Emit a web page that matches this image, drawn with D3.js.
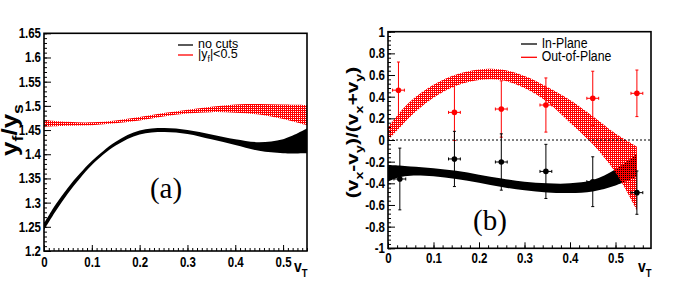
<!DOCTYPE html>
<html>
<head>
<meta charset="utf-8">
<script src="https://cdn.jsdelivr.net/npm/d3@7"></script>
<style>
  body { margin: 0; background: #fff; }
  text { font-family: "Liberation Sans", Arial, Helvetica, sans-serif; }
</style>
</head>
<body>
<script>
//////////////////////////////////////////////////////////////////////////////
// Data

// panel (a): y_f/y_s vs v_T
let vNoCuts = [0, 0.025, 0.05, 0.075, 0.1, 0.15, 0.2, 0.25, 0.3, 0.35, 0.4, 0.45, 0.5, 0.55];
let noCutsHi = [1.257, 1.297, 1.331, 1.360, 1.386, 1.426, 1.449, 1.454, 1.450, 1.441, 1.431, 1.425, 1.431, 1.453];
let noCutsLo = [1.243, 1.283, 1.319, 1.350, 1.378, 1.418, 1.441, 1.446, 1.442, 1.431, 1.419, 1.407, 1.402, 1.402];

let vCut = [0, 0.05, 0.1, 0.15, 0.2, 0.25, 0.3, 0.35, 0.4, 0.45, 0.5, 0.55];
let cutHi = [1.471, 1.467, 1.466, 1.470, 1.477, 1.485, 1.492, 1.498, 1.503, 1.504, 1.503, 1.502];
let cutLo = [1.457, 1.459, 1.460, 1.464, 1.470, 1.478, 1.484, 1.487, 1.486, 1.482, 1.473, 1.460];

// panel (b): (vx-vy)/(vx+vy) vs v_T
let vBand = [0, 0.025, 0.05, 0.1, 0.15, 0.2, 0.25, 0.3, 0.35, 0.4, 0.45, 0.5, 0.547];
let outHi = [0.12, 0.25, 0.36, 0.51, 0.605, 0.652, 0.65, 0.59, 0.49, 0.37, 0.22, 0.06, -0.06];
let outLo = [0.0, 0.11, 0.22, 0.39, 0.50, 0.553, 0.552, 0.48, 0.35, 0.16, -0.04, -0.30, -0.65];
let inHi = [-0.23, -0.235, -0.245, -0.26, -0.285, -0.32, -0.355, -0.385, -0.40, -0.40, -0.37, -0.27, -0.13];
let inLo = [-0.385, -0.345, -0.33, -0.335, -0.36, -0.395, -0.435, -0.465, -0.485, -0.49, -0.475, -0.42, -0.34];

let outV = [0.023, 0.146, 0.249, 0.347, 0.45, 0.547];
let outY = [0.46, 0.255, 0.286, 0.323, 0.385, 0.431];
let outErr = [0.26, 0.26, 0.26, 0.25, 0.25, 0.215];
let inV = [0.026, 0.146, 0.249, 0.347, 0.45, 0.547];
let inY = [-0.36, -0.175, -0.203, -0.29, -0.385, -0.486];
let inErr = [0.285, 0.255, 0.26, 0.25, 0.23, 0.2];
let vErr = 0.013;

// ticks
let xTicksA = [0, 0.1, 0.2, 0.3, 0.4, 0.5];
let yTicksA = [1.2, 1.25, 1.3, 1.35, 1.4, 1.45, 1.5, 1.55, 1.6, 1.65];
let xTicksB = [0, 0.1, 0.2, 0.3, 0.4, 0.5];
let yTicksB = [-1, -0.8, -0.6, -0.4, -0.2, 0, 0.2, 0.4, 0.6, 0.8, 1];

//////////////////////////////////////////////////////////////////////////////
// canvas

let width = 689;
let height = 288;
let squeezeX = 0.82;   // picture is narrower than the ROOT original

let svg = d3.select("body").append("svg")
  .attr("width", width)
  .attr("height", height);

svg.append("rect").attr("width", width).attr("height", height).attr("fill", "#fff");

// red hatch of ROOT fill style: red with a transparent dot in each cell
let defs = svg.append("defs");
defs.append("pattern")
  .attr("id", "hatch")
  .attr("patternUnits", "userSpaceOnUse")
  .attr("width", 2).attr("height", 2)
  .append("path")
  .attr("d", "M0,0H2V2H0Z M1,1V2H2V1Z")
  .attr("fill-rule", "evenodd")
  .attr("fill", "#ff0000");

// narrow the horizontal size of text like in the picture
function squeeze(sel, rot) {
  sel.each(function () {
    let t = d3.select(this);
    let x = +t.attr("x") || 0, y = +t.attr("y") || 0;
    t.attr("x", null).attr("y", null)
      .attr("transform", `translate(${x},${y}) scale(${squeezeX},1)` + (rot ? " rotate(-90)" : ""));
  });
}

function subText(g, parts, x, y, size, opts) {
  let t = g.append("text")
    .attr("x", x).attr("y", y)
    .attr("font-size", size)
    .attr("font-weight", opts.bold ? "bold" : "normal")
    .attr("text-anchor", opts.anchor || "start");
  let shift = 0;
  parts.forEach(p => {
    let sub = p[1];
    let dy = sub ? size * 0.3 - shift : -shift;
    shift = sub ? size * 0.3 : 0;
    t.append("tspan")
      .attr("dy", dy)
      .attr("font-size", sub ? size * 0.68 : size)
      .text(p[0]);
  });
  if (!opts.wide) squeeze(t, opts.rot);
  return t;
}

function makeAxes(g, x, y, xMinor, yMinor, xTicks, yTicks, yFmt, padX) {
  let [x0, x1] = x.range();
  let [y0, y1] = y.range();

  // minor ticks
  g.append("g").attr("transform", `translate(0,${y0})`)
    .call(d3.axisBottom(x).tickValues(xMinor).tickSize(-3).tickFormat(""))
    .call(a => a.select(".domain").remove());
  g.append("g").attr("transform", `translate(${x0},0)`)
    .call(d3.axisLeft(y).tickValues(yMinor).tickSize(-3).tickFormat(""))
    .call(a => a.select(".domain").remove());

  // major ticks with labels
  let ax = g.append("g").attr("transform", `translate(0,${y0})`)
    .call(d3.axisBottom(x).tickValues(xTicks).tickSize(-6).tickPadding(padX)
      .tickFormat(d => +d.toFixed(2)));
  ax.select(".domain").remove();
  ax.selectAll("text").attr("font-size", 14).attr("font-weight", "bold").attr("font-family", null);
  squeeze(ax.selectAll("text"));

  let ay = g.append("g").attr("transform", `translate(${x0},0)`)
    .call(d3.axisLeft(y).tickValues(yTicks).tickSize(-7).tickPadding(3).tickFormat(yFmt));
  ay.select(".domain").remove();
  ay.selectAll("text").attr("font-size", 14).attr("font-weight", "bold").attr("font-family", null);
  squeeze(ay.selectAll("text"));

  g.selectAll(".tick line").attr("stroke", "#000").attr("stroke-width", 1);

  // frame
  g.append("rect")
    .attr("x", x0).attr("y", y1)
    .attr("width", x1 - x0).attr("height", y0 - y1)
    .attr("fill", "none").attr("stroke", "#000").attr("stroke-width", 1.6);
}

function band(g, xs, lo, hi, x, y, fill) {
  let rows = xs.map((v, i) => ({ v: v, lo: lo[i], hi: hi[i] }));
  g.append("path")
    .datum(rows)
    .attr("fill", fill)
    .attr("d", d3.area()
      .curve(d3.curveCatmullRom)
      .x(d => x(d.v))
      .y0(d => y(d.lo))
      .y1(d => y(d.hi)));
}

let serif = "'Liberation Serif', 'Times New Roman', serif";

//////////////////////////////////////////////////////////////////////////////
// panel (a)

let xA = d3.scaleLinear().domain([0, 0.55]).range([44, 307]);
let yA = d3.scaleLinear().domain([1.2, 1.65]).range([251, 33.3]);
let gA = svg.append("g");

band(gA, vNoCuts, noCutsLo, noCutsHi, xA, yA, "#000");
band(gA, vCut, cutLo, cutHi, xA, yA, "url(#hatch)");

makeAxes(gA, xA, yA,
  d3.range(0, 0.5501, 0.01), d3.range(1.2, 1.6501, 0.01),
  xTicksA, yTicksA, d => +d.toFixed(2), 6);

// legend
let legA = [["no cuts", "#000"], ["|y_f|<0.5", "#ff0000"]];
legA.forEach((d, i) => {
  gA.append("line")
    .attr("x1", 178).attr("x2", 193)
    .attr("y1", 45 + i * 10).attr("y2", 45 + i * 10)
    .attr("stroke", d[1]).attr("stroke-width", 1.3);
});
gA.append("text").attr("x", 198).attr("y", 48.3).attr("font-size", 12.5).text("no cuts");
subText(gA, [["|y", 0], ["f", 1], ["|<0.5", 0]], 198, 58.3, 12.5, { wide: true });

gA.append("text")
  .attr("x", 166).attr("y", 198)
  .attr("text-anchor", "middle")
  .style("font-family", serif)
  .attr("font-size", 29)
  .text("(a)");

subText(gA, [["v", 0], ["T", 1]], 294, 271.5, 17, { bold: true });
subText(gA, [["y", 0], ["f", 1], ["/y", 0], ["s", 1]], 17, 130, 26, { bold: true, anchor: "middle", rot: true });

//////////////////////////////////////////////////////////////////////////////
// panel (b)

let xB = d3.scaleLinear().domain([0, 0.578]).range([388, 651]);
let yB = d3.scaleLinear().domain([-1, 1]).range([248.3, 31.7]);
let gB = svg.append("g");

band(gB, vBand, inLo, inHi, xB, yB, "#000");
band(gB, vBand, outLo, outHi, xB, yB, "url(#hatch)");

gB.append("line")
  .attr("x1", xB(0)).attr("x2", xB.range()[1])
  .attr("y1", yB(0)).attr("y2", yB(0))
  .attr("stroke", "#000").attr("stroke-width", 1.2)
  .attr("stroke-dasharray", "2,2");

function points(g, vs, ys, errs, color) {
  let rows = vs.map((v, i) => ({ v: v, y: ys[i], e: errs[i] }));
  let p = g.append("g").selectAll("g").data(rows).join("g");
  p.append("line")
    .attr("x1", d => xB(d.v)).attr("x2", d => xB(d.v))
    .attr("y1", d => yB(d.y - d.e)).attr("y2", d => yB(d.y + d.e))
    .attr("stroke", color).attr("stroke-width", 1);
  p.append("line")
    .attr("x1", d => xB(d.v - vErr)).attr("x2", d => xB(d.v + vErr))
    .attr("y1", d => yB(d.y)).attr("y2", d => yB(d.y))
    .attr("stroke", color).attr("stroke-width", 1);
  // small end caps
  [d => d.y - d.e, d => d.y + d.e].forEach(f => p.append("line")
    .attr("x1", d => xB(d.v) - 1.5).attr("x2", d => xB(d.v) + 1.5)
    .attr("y1", d => yB(f(d))).attr("y2", d => yB(f(d)))
    .attr("stroke", color).attr("stroke-width", 1));
  [d => d.v - vErr, d => d.v + vErr].forEach(f => p.append("line")
    .attr("x1", d => xB(f(d))).attr("x2", d => xB(f(d)))
    .attr("y1", d => yB(d.y) - 1.5).attr("y2", d => yB(d.y) + 1.5)
    .attr("stroke", color).attr("stroke-width", 1));
  p.append("circle")
    .attr("cx", d => xB(d.v)).attr("cy", d => yB(d.y))
    .attr("r", 2.8).attr("fill", color);
}
points(gB, outV, outY, outErr, "#ff0000");
points(gB, inV, inY, inErr, "#000");

makeAxes(gB, xB, yB,
  d3.range(0, 0.5781, 0.02), d3.range(-1, 1.0001, 0.04),
  xTicksB, yTicksB, d => +d.toFixed(1), 5);

// legend
let legB = [["In-Plane", "#000"], ["Out-of-Plane", "#ff0000"]];
legB.forEach((d, i) => {
  gB.append("line")
    .attr("x1", 521).attr("x2", 537)
    .attr("y1", 44 + i * 13.3).attr("y2", 44 + i * 13.3)
    .attr("stroke", d[1]).attr("stroke-width", 1.3);
  let t = gB.append("text")
    .attr("x", 541.7).attr("y", 48.3 + i * 12.7)
    .attr("font-size", 15)
    .text(d[0]);
  squeeze(t);
});

gB.append("text")
  .attr("x", 490).attr("y", 230)
  .attr("text-anchor", "middle")
  .style("font-family", serif)
  .attr("font-size", 29)
  .text("(b)");

subText(gB, [["v", 0], ["T", 1]], 638, 271.5, 17, { bold: true });
subText(gB, [["(v", 0], ["x", 1], ["-v", 0], ["y", 1], [")/(v", 0], ["x", 1], ["+v", 0], ["y", 1], [")", 0]],
  358, 132.5, 21, { bold: true, anchor: "middle", rot: true });
</script>
</body>
</html>
